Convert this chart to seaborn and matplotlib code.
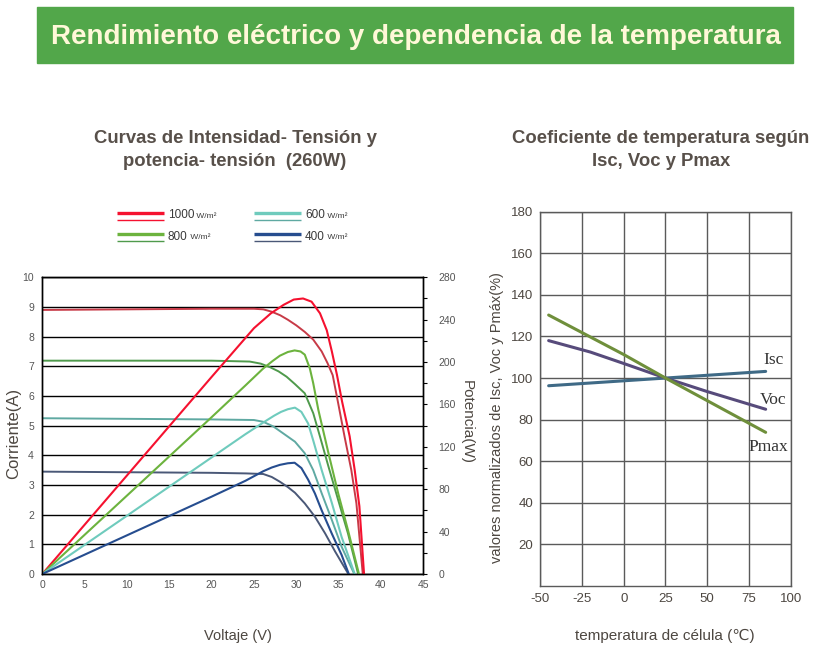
import numpy as np
import pandas as pd
import matplotlib
matplotlib.use("Agg")
import matplotlib.pyplot as plt
from matplotlib.patches import Rectangle
from matplotlib.ticker import MultipleLocator
import seaborn as sns

# --- I-V curves (current, A)
v_1000 = [0, 10, 20, 25, 26.1, 27.1, 28.1, 29.0, 30.0, 31.0, 32.0, 33.0, 33.7, 34.3, 34.95, 35.7, 36.5, 37.1, 37.85]
i_1000 = [8.90, 8.92, 8.94, 8.94, 8.92, 8.84, 8.72, 8.57, 8.38, 8.16, 7.90, 7.50, 7.10, 6.70, 5.75, 4.63, 3.50, 2.38, 0.0]
v_800 = [0, 10, 20, 24.5, 25.8, 26.9, 27.9, 28.85, 29.84, 31.0, 32.0, 32.8, 33.8, 34.95, 36.1, 37.3]
i_800 = [7.19, 7.19, 7.19, 7.16, 7.09, 6.97, 6.83, 6.65, 6.40, 6.09, 5.42, 4.63, 3.62, 2.49, 1.37, 0.0]
v_600 = [0, 10, 20, 25, 26.1, 27.3, 28.45, 29.84, 31.0, 32.0, 33.0, 34.2, 35.35, 36.85]
i_600 = [5.25, 5.23, 5.21, 5.19, 5.13, 4.97, 4.74, 4.46, 4.07, 3.50, 2.72, 1.82, 0.92, 0.0]
v_400 = [0, 10, 20, 24.1, 26.1, 27.1, 28.06, 29.0, 29.84, 31.0, 32.2, 33.4, 34.6, 36.15]
i_400 = [3.45, 3.43, 3.41, 3.39, 3.37, 3.27, 3.11, 2.93, 2.74, 2.38, 1.93, 1.37, 0.75, 0.0]

# --- P-V curves (power, W)
pv_1000 = [0, 10, 20, 25, 27.0, 28.5, 29.7, 30.8, 31.8, 32.8, 33.6, 34.2, 34.8, 35.4, 36.3, 36.9, 37.45, 38.0]
p_1000 = [0, 93, 186, 232, 246, 254, 259, 260, 257, 246, 230, 210, 188, 163, 130, 98, 64, 0]
pv_800 = [0, 10, 20, 24, 26.1, 27.2, 28.06, 29.0, 29.8, 30.5, 31.0, 31.6, 32.0, 32.6, 33.8, 34.95, 36.1, 37.4]
p_800 = [0, 74, 148, 178, 194, 201, 206, 209.5, 211, 210, 207, 194, 180, 155, 114, 76, 41.5, 0]
pv_600 = [0, 10, 20, 24, 26.5, 27.4, 28.2, 29.0, 29.84, 30.6, 31.4, 32.0, 33.0, 34.2, 35.35, 36.9]
p_600 = [0, 55, 110, 132, 145, 149.5, 153, 155.5, 157, 153, 142, 126, 98, 67, 35, 0]
pv_400 = [0, 10, 20, 24, 26.1, 27.1, 28.06, 29.0, 29.8, 30.6, 31.4, 32.2, 33.0, 34.2, 35.35, 36.2]
p_400 = [0, 36.5, 73, 88, 97, 100.5, 103, 104.5, 105, 100, 89, 76, 60, 38, 18, 0]

irradiance = ["1000", "800", "600", "400"]

# --- temperature coefficients
t_isc = [-45, 25, 85]
isc = [96.3, 100, 103.2]
t_voc = [-45, -20, 0, 25, 50, 85]
voc = [118, 112.5, 107, 100, 93.5, 85]
t_pmax = [-45, 0, 25, 85]
pmax = [130.3, 111.3, 100, 73.9]

sns.set_style("white")
plt.rcParams["font.family"] = ["Liberation Sans", "DejaVu Sans"]
plt.rcParams["axes.unicode_minus"] = False

fig = plt.figure(figsize=(8.2, 6.59), dpi=100)
W, H = 820, 659

def fx(px):
    return px / W

def fy(py):
    return 1 - py / H

# title banner
fig.patches.append(Rectangle((fx(37), fy(63)), fx(793) - fx(37), fy(7) - fy(63),
                             transform=fig.transFigure, color="#52a74a", zorder=0))
fig.text(fx(416), fy(37), "Rendimiento eléctrico y dependencia de la temperatura",
         ha="center", va="center", color="#fff8d8", fontsize=20, fontweight="bold")

sub_color = "#58504a"
fig.text(fx(235), fy(150), "Curvas de Intensidad- Tensión y\npotencia- tensión  (260W)",
         ha="center", va="center", fontsize=13.3, fontweight="bold", color=sub_color,
         linespacing=1.45)
fig.text(fx(661), fy(150), "Coeficiente de temperatura según\nIsc, Voc y Pmax",
         ha="center", va="center", fontsize=13.3, fontweight="bold", color=sub_color,
         linespacing=1.45)

# ---------------- left chart
ax = fig.add_axes([fx(42.3), fy(574), fx(423.3) - fx(42.3), fy(277.3) - fy(574)])
ax2 = ax.twinx()

c_iv = {"1000": "#c73a47", "800": "#4f9a4c", "600": "#5fa9a2", "400": "#4a5877"}
c_p = {"1000": "#f5112f", "800": "#6cb33e", "600": "#6fcbbd", "400": "#264d8f"}

iv = {"1000": (v_1000, i_1000), "800": (v_800, i_800), "600": (v_600, i_600), "400": (v_400, i_400)}
pw = {"1000": (pv_1000, p_1000), "800": (pv_800, p_800), "600": (pv_600, p_600), "400": (pv_400, p_400)}

for k in irradiance:
    sns.lineplot(x=iv[k][0], y=iv[k][1], ax=ax, color=c_iv[k], lw=1.4,
                 estimator=None, sort=False)
    sns.lineplot(x=pw[k][0], y=pw[k][1], ax=ax2, color=c_p[k], lw=1.5,
                 estimator=None, sort=False)

ax.set_xlim(0, 45)
ax.set_ylim(0, 10)
ax2.set_ylim(0, 280)
ax.set_xticks(range(0, 50, 5))
ax.set_yticks(range(0, 11))
ax.yaxis.grid(True, color="black", lw=1.0)
ax.set_axisbelow(True)
ax2.yaxis.set_major_locator(MultipleLocator(40))
ax2.yaxis.set_minor_locator(MultipleLocator(20))
for a in (ax, ax2):
    for s in a.spines.values():
        s.set_color("black")
        s.set_linewidth(1.0)
ax.tick_params(axis="x", direction="out", length=3, width=0.8, colors="black",
               labelcolor="#555555", labelsize=7.5, pad=1)
ax.tick_params(axis="y", length=0, labelcolor="#555555", labelsize=7.5, pad=6)
ax2.tick_params(axis="y", which="both", direction="out", length=3, width=0.8,
                colors="black", labelcolor="#555555", labelsize=7.5, pad=8)
ax2.tick_params(axis="y", which="minor", length=3)
ax.set_xlabel("")
ax.set_ylabel("")
fig.text(fx(14), fy(433), "Corriente(A)", rotation=90, ha="center", va="center",
         fontsize=12, color="#4d4741")
fig.text(fx(467), fy(422), "Potencia(W)", rotation=270, ha="center", va="center",
         fontsize=11, color="#4d4741")
fig.text(fx(238), fy(636), "Voltaje (V)", ha="center", va="center",
         fontsize=10.5, color="#4d4741")

# legend drawn in its own small axes, pixel coordinates
lg = fig.add_axes([0, 0, 1, 1], facecolor="none")
lg.set_xlim(0, W)
lg.set_ylim(H, 0)
lg.axis("off")
leg_pos = {"1000": (117, 213), "800": (117, 234), "600": (254, 213), "400": (254, 234)}
for k in irradiance:
    x0, y0 = leg_pos[k]
    lg.plot([x0, x0 + 47], [y0, y0], color=c_p[k], lw=2.4, solid_capstyle="butt")
    lg.plot([x0, x0 + 47], [y0 + 6.5, y0 + 6.5], color=c_iv[k] if k != "1000" else c_p[k],
            lw=1.0, solid_capstyle="butt")
    t = lg.text(x0 + 51, y0 + 2.5, k, fontsize=8.5, va="center", ha="left", color="#3a3a3a")
    lg.annotate(" W/m²", xy=(1, 0.45), xycoords=t, va="center", ha="left",
                fontsize=6, color="#3a3a3a")

# ---------------- right chart
bx = fig.add_axes([fx(540.3), fy(586), fx(790.7) - fx(540.3), fy(211.7) - fy(586)])
sns.lineplot(x=t_isc, y=isc, ax=bx, color="#3f6a86", lw=2.2, estimator=None, sort=False)
sns.lineplot(x=t_voc, y=voc, ax=bx, color="#574b7b", lw=2.2, estimator=None, sort=False)
sns.lineplot(x=t_pmax, y=pmax, ax=bx, color="#6f8f3b", lw=2.2, estimator=None, sort=False)
bx.set_xlim(-50, 100)
bx.set_ylim(0, 180)
bx.set_xticks(range(-50, 101, 25))
bx.set_yticks(range(20, 181, 20))
bx.grid(True, color="#5a5a5a", lw=1.0)
bx.set_axisbelow(True)
for s in bx.spines.values():
    s.set_color("#5a5a5a")
    s.set_linewidth(1.0)
bx.tick_params(length=0, labelcolor="#4d4741", labelsize=9.5, pad=5)
bx.set_xlabel("")
bx.set_ylabel("")
serif = ["Liberation Serif", "DejaVu Serif"]
bx.text(89.5, 108.5, "Isc", fontsize=12.5, family=serif, ha="center", va="center", color="#333333")
bx.text(89.5, 89.5, "Voc", fontsize=12.5, family=serif, ha="center", va="center", color="#333333")
bx.text(86.5, 67, "Pmax", fontsize=12.5, family=serif, ha="center", va="center", color="#333333")
fig.text(fx(497), fy(418), "valores normalizados de Isc, Voc y Pmáx(%)", rotation=90,
         ha="center", va="center", fontsize=10.5, color="#4d4741")
fig.text(fx(665), fy(636), "temperatura de célula (℃)", ha="center", va="center",
         fontsize=11, color="#4d4741", family=["Liberation Sans", "DejaVu Sans"])

fig.savefig("out.png", dpi=100)
